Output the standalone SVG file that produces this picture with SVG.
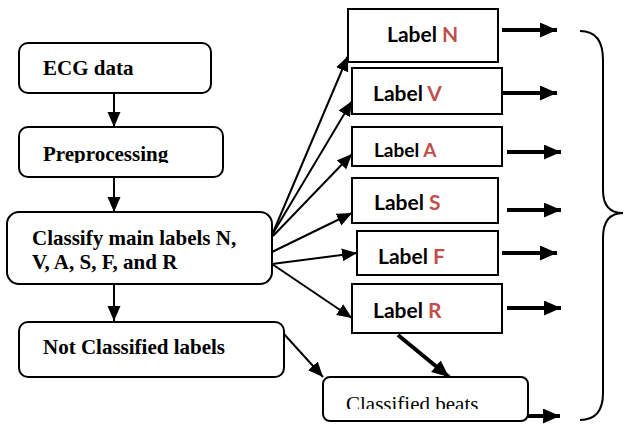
<svg xmlns="http://www.w3.org/2000/svg" width="624" height="424" viewBox="0 0 624 424">
<style>
  .box { fill: #fff; stroke: #000; stroke-width: 2; }
  .serif { font-family: "Liberation Serif", "Times New Roman", serif; font-size: 21px; fill: #000; }
  .b { font-weight: bold; }
  .lbl { font-family: Lato, "Open Sans", "Liberation Sans", sans-serif; font-weight: bold; font-size: 21px; fill: #000; }
  .red { fill: #C0504D; }
  .thin { stroke: #000; stroke-width: 2; fill: none; marker-end: url(#ah); }
  .thick { stroke: #000; stroke-width: 4; fill: none; marker-end: url(#ahb); }
</style>
<defs>
  <marker id="ah" markerUnits="userSpaceOnUse" markerWidth="16" markerHeight="14" refX="15" refY="6.5" orient="auto">
    <path d="M0,0 L15,6.5 L0,13 z" fill="#000"/>
  </marker>
  <marker id="ahb" markerUnits="userSpaceOnUse" markerWidth="18" markerHeight="16" refX="17" refY="7.5" orient="auto">
    <path d="M0,0 L17,7.5 L0,15 z" fill="#000"/>
  </marker>
  <clipPath id="clipPre"><rect x="19" y="127" width="204" height="36"/></clipPath>
  <clipPath id="clipCB"><rect x="323" y="377" width="205" height="32"/></clipPath>
</defs>

<g id="connectors">
  <line class="thin" x1="114" y1="93" x2="114" y2="127"/>
  <line class="thin" x1="114" y1="177" x2="114" y2="212"/>
  <line class="thin" x1="114" y1="284" x2="114" y2="321"/>
  <line class="thin" x1="272" y1="235" x2="348" y2="56"/>
  <line class="thin" x1="272" y1="235" x2="352" y2="101"/>
  <line class="thin" x1="273" y1="236" x2="352" y2="154"/>
  <line class="thin" x1="272" y1="252" x2="352" y2="213"/>
  <line class="thin" x1="272" y1="264" x2="357" y2="253"/>
  <line class="thin" x1="272" y1="264" x2="352" y2="318"/>
  <line class="thin" x1="284" y1="334" x2="323" y2="377"/>
  <line class="thick" x1="398" y1="335" x2="449" y2="377"/>
  <line class="thick" x1="502" y1="30" x2="557" y2="30"/>
  <line class="thick" x1="502" y1="93" x2="557" y2="93"/>
  <line class="thick" x1="507" y1="152" x2="561" y2="152"/>
  <line class="thick" x1="507" y1="210" x2="561" y2="210"/>
  <line class="thick" x1="502" y1="253" x2="557" y2="253"/>
  <line class="thick" x1="507" y1="308" x2="561" y2="308"/>
  <line class="thick" x1="528" y1="416" x2="560" y2="416"/>
</g>

<g id="ecg">
  <rect class="box" x="19" y="43" width="192" height="50" rx="9"/>
  <text class="serif b" x="43" y="75">ECG data</text>
</g>
<g id="preprocessing">
  <rect class="box" x="19" y="127" width="204" height="50" rx="9"/>
  <text class="serif b" x="43" y="161" clip-path="url(#clipPre)">Preprocessing</text>
</g>
<g id="classify">
  <rect class="box" x="7" y="212" width="265" height="72" rx="12"/>
  <text class="serif b" x="32" y="245">Classify main labels N,</text>
  <text class="serif b" x="32" y="269">V, A, S, F, and R</text>
</g>
<g id="notclassified">
  <rect class="box" x="19" y="322" width="265" height="55" rx="9"/>
  <text class="serif b" x="43" y="354">Not Classified labels</text>
</g>

<g id="labelN">
  <rect class="box" x="348" y="9" width="150" height="53"/>
  <text class="lbl" x="387" y="42">Label <tspan class="red">N</tspan></text>
</g>
<g id="labelV">
  <rect class="box" x="352" y="68" width="150" height="46"/>
  <text class="lbl" x="373" y="101">Label <tspan class="red">V</tspan></text>
</g>
<g id="labelA">
  <rect class="box" x="352" y="127" width="150" height="39"/>
  <text class="lbl" x="374" y="157" style="font-size:19px">Label <tspan class="red">A</tspan></text>
</g>
<g id="labelS">
  <rect class="box" x="352" y="178" width="146" height="45"/>
  <text class="lbl" x="374" y="210">Label <tspan class="red">S</tspan></text>
</g>
<g id="labelF">
  <rect class="box" x="357" y="231" width="141" height="44"/>
  <text class="lbl" x="378" y="264">Label <tspan class="red">F</tspan></text>
</g>
<g id="labelR">
  <rect class="box" x="352" y="284" width="150" height="49"/>
  <text class="lbl" x="373" y="318">Label <tspan class="red">R</tspan></text>
</g>
<g id="classifiedbeats">
  <rect class="box" x="323" y="377" width="205" height="44" rx="7"/>
  <text class="serif" x="346" y="411" clip-path="url(#clipCB)">Classified beats</text>
</g>

<g id="brace">
  <path d="M580,31 C596,31 603,42 603,60 L603,190 C603,205 610,213 623,213 C610,213 603,221 603,238 L603,393 C603,410 596,420 580,420" fill="none" stroke="#000" stroke-width="2"/>
</g>
</svg>
